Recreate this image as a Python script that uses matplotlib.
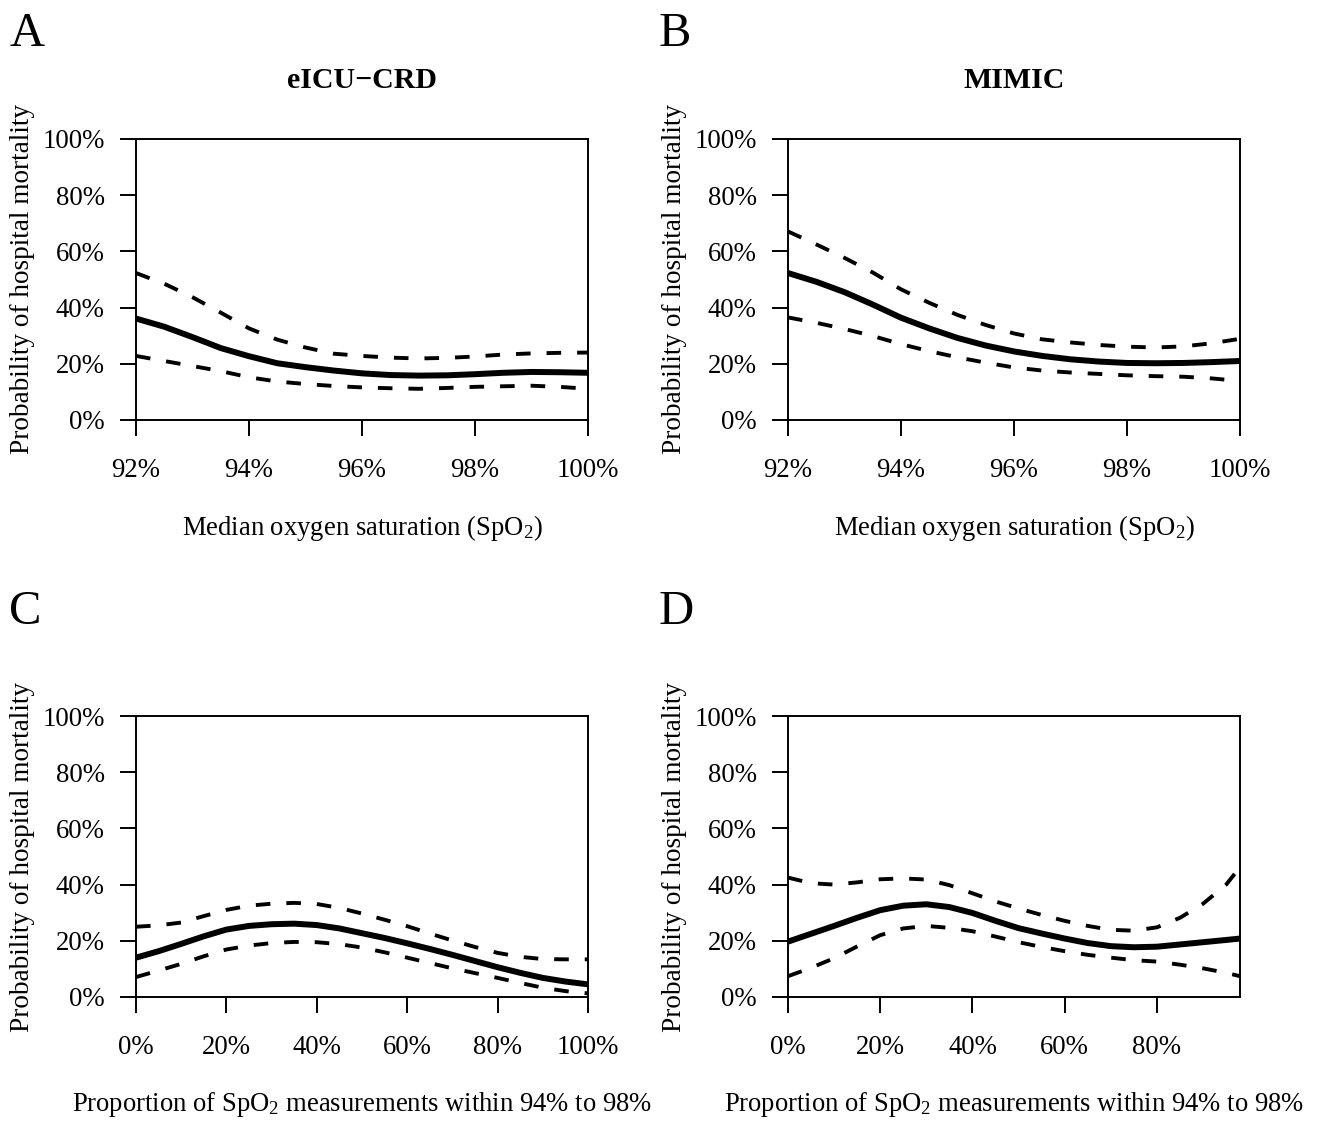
import numpy as np
import matplotlib
matplotlib.use("Agg")
import matplotlib.pyplot as plt

plt.rcParams['font.family'] = ['Liberation Serif', 'DejaVu Serif']
plt.rcParams['mathtext.fontset'] = 'custom'
plt.rcParams['mathtext.rm'] = 'Liberation Serif'
plt.rcParams['mathtext.it'] = 'Liberation Serif:italic'
plt.rcParams['lines.scale_dashes'] = False

# ---- data (values in %) ----
spo2_x = [92, 92.5, 93, 93.5, 94, 94.5, 95, 95.5, 96, 96.5, 97, 97.5, 98, 98.5, 99, 99.5, 100]

eicu_med_fit = [36.1, 33.2, 29.5, 25.6, 22.7, 20.2, 18.8, 17.6, 16.6, 16.0, 15.8, 15.9, 16.3, 16.8, 17.1, 17.0, 16.8]
eicu_med_hi = [52.3, 48.5, 43.7, 38.2, 32.6, 28.6, 25.8, 23.6, 22.8, 22.2, 21.9, 22.1, 22.6, 23.3, 23.7, 23.9, 24.0]
eicu_med_lo = [22.8, 21.0, 19.2, 17.4, 15.2, 13.7, 12.8, 12.1, 11.6, 11.3, 11.1, 11.4, 11.8, 12.0, 12.2, 11.8, 11.1]

mimic_med_fit = [52.3, 49.2, 45.5, 41.1, 36.4, 32.6, 29.2, 26.5, 24.4, 22.8, 21.6, 20.8, 20.3, 20.2, 20.3, 20.6, 21.0]
mimic_med_hi = [67.1, 62.5, 57.7, 52.5, 46.5, 41.7, 37.4, 33.8, 30.8, 28.7, 27.6, 26.7, 26.1, 25.8, 26.2, 27.3, 28.9]
mimic_med_lo = [36.5, 34.6, 32.4, 29.9, 27.0, 24.5, 22.3, 20.4, 18.7, 17.6, 16.9, 16.4, 15.9, 15.6, 15.4, 14.8, 13.9]

prop_x_eicu = [0, 5, 10, 15, 20, 25, 30, 35, 40, 45, 50, 55, 60, 65, 70, 75, 80, 85, 90, 95, 100]
eicu_prop_fit = [14.0, 16.3, 18.9, 21.6, 24.0, 25.3, 25.9, 26.1, 25.6, 24.4, 22.7, 21.0, 19.1, 17.1, 15.0, 12.8, 10.6, 8.6, 6.8, 5.5, 4.5]
eicu_prop_hi = [25.0, 25.5, 26.5, 28.8, 31.0, 32.5, 33.2, 33.5, 33.1, 31.7, 29.7, 27.5, 25.2, 22.6, 20.1, 17.8, 15.7, 14.3, 13.5, 13.4, 13.4]
eicu_prop_lo = [7.1, 9.4, 11.8, 14.5, 16.9, 18.3, 19.2, 19.6, 19.5, 18.8, 17.6, 15.9, 14.0, 12.1, 10.2, 8.5, 6.8, 5.0, 3.3, 2.1, 1.3]

prop_x_mimic = [0, 5, 10, 15, 20, 25, 30, 35, 40, 45, 50, 55, 60, 65, 70, 75, 80, 85, 90, 95, 98]
mimic_prop_fit = [19.7, 22.5, 25.3, 28.2, 30.9, 32.5, 33.0, 32.0, 29.9, 27.1, 24.5, 22.6, 20.8, 19.2, 18.1, 17.7, 17.9, 18.7, 19.5, 20.3, 20.8]
mimic_prop_hi = [42.5, 40.5, 40.0, 40.8, 41.9, 42.2, 41.8, 39.8, 36.9, 34.0, 31.5, 29.2, 27.1, 25.3, 23.9, 23.6, 24.8, 28.2, 33.2, 40.0, 46.2]
mimic_prop_lo = [7.4, 10.4, 13.8, 18.0, 22.0, 24.4, 25.3, 24.6, 23.4, 21.5, 19.5, 17.8, 16.3, 15.0, 14.0, 13.1, 12.6, 11.5, 10.2, 8.6, 7.4]

y_ticks = [0, 20, 40, 60, 80, 100]
spo2_ticks = [92, 94, 96, 98, 100]
prop_ticks_eicu = [0, 20, 40, 60, 80, 100]
prop_ticks_mimic = [0, 20, 40, 60, 80]

ylab = "Probability of hospital mortality"
xlab_med = "Median oxygen saturation (SpO$_2$)"
xlab_prop = "Proportion of SpO$_2$ measurements within 94% to 98%"

W, H = 1318, 1122
fig = plt.figure(figsize=(W / 100, H / 100), dpi=100)


def make_ax(x0, x1, y0, y1):
    return fig.add_axes([x0 / W, 1 - y1 / H, (x1 - x0) / W, (y1 - y0) / H])


def draw(ax, x, fit, lo, hi, xlim, xticks, xlabel, title=None):
    ax.plot(x, fit, c="k", lw=4.3, solid_capstyle="butt")
    for s in (lo, hi):
        ax.plot(x, s, c="k", lw=2.8, dashes=(10.5, 11.5), dash_capstyle="butt")
    ax.set_xlim(*xlim)
    ax.set_ylim(0, 100)
    ax.set_xticks(xticks)
    ax.set_xticklabels([f"{t:g}%" for t in xticks])
    ax.set_yticks(y_ticks)
    ax.set_yticklabels([f"{t}%" for t in y_ticks])
    ax.tick_params(direction="out", length=11.5, width=1.4, labelsize=19.3)
    ax.tick_params(axis="x", pad=16)
    ax.tick_params(axis="y", pad=11)
    for sp in ax.spines.values():
        sp.set_linewidth(1.4)
    ax.set_ylabel(ylab, fontsize=19.6)
    ax.yaxis.set_label_coords(-0.223, 0.5)
    ax.set_xlabel(xlabel, fontsize=19.2)
    ax.xaxis.set_label_coords(0.5, -0.33)
    if title:
        ax.set_title(title, fontsize=21.5, fontweight="bold", pad=37)


axA = make_ax(136, 588, 139, 420)
axB = make_ax(788, 1240, 139, 420)
axC = make_ax(136, 588, 716, 997)
axD = make_ax(788, 1240, 716, 997)

draw(axA, spo2_x, eicu_med_fit, eicu_med_lo, eicu_med_hi, (92, 100), spo2_ticks, xlab_med, "eICU\u2212CRD")
draw(axB, spo2_x, mimic_med_fit, mimic_med_lo, mimic_med_hi, (92, 100), spo2_ticks, xlab_med, "MIMIC")
draw(axC, prop_x_eicu, eicu_prop_fit, eicu_prop_lo, eicu_prop_hi, (0, 100), prop_ticks_eicu, xlab_prop)
draw(axD, prop_x_mimic, mimic_prop_fit, mimic_prop_lo, mimic_prop_hi, (0, 98), prop_ticks_mimic, xlab_prop)

# panel letters
for lab, px, py in [("A", 9, 46), ("B", 659, 46), ("C", 9, 624), ("D", 659, 624)]:
    fig.text(px / W, 1 - py / H, lab, fontsize=35, ha="left", va="baseline")

fig.savefig("out.png", dpi=100)
